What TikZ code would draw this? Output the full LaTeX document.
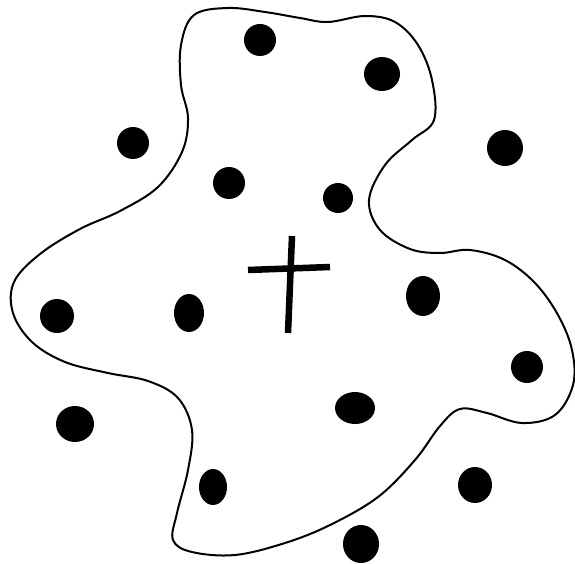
\documentclass[tikz,border=0pt]{standalone}
\usepackage{tikz}

\begin{document}
\begin{tikzpicture}[line cap=round,line join=round,x=1pt,y=-1pt]
			\useasboundingbox (0,0) rectangle (575,564);
			%contour
			\draw[line width=2pt] plot[smooth cycle,tension=0.6] coordinates {
				(194,15) (228,8) (265,12) (300,18) (328,22) (365,16) (395,22)
				(418,45) (432,80) (434,120) (412,140) (385,165) (369,200)
				(380,230) (410,249) (440,253) (470,250) (505,260) (535,283)
				(558,315) (572,350) (573,385) (555,415) (522,423) (487,413)
				(460,409) (440,426) (415,460) (378,497) (330,525) (285,543)
				(235,555) (192,552) (173,540) (177,513) (188,470) (192,430)
				(178,398) (148,381) (108,373) (65,362) (32,342) (13,313)
				(14,282) (40,254) (80,229) (120,211) (158,187) (182,152)
				(188,118) (181,85) (181,45)};
			%points
			\fill (260,40) ellipse (16pt and 16pt);
			\fill (382,74) ellipse (18pt and 17pt);
			\fill (133,143) ellipse (16pt and 16pt);
			\fill (505,148) ellipse (18pt and 18pt);
			\fill (229,183) ellipse (16pt and 16pt);
			\fill (338,198) ellipse (15pt and 15pt);
			\fill (423,296) ellipse (17pt and 20pt);
			\fill (57,316) ellipse (17pt and 17pt);
			\fill (189,313) ellipse (15pt and 19pt);
			\fill (527,367) ellipse (16pt and 16pt);
			\fill (355,408) ellipse (20pt and 16pt);
			\fill (75,424) ellipse (19pt and 18pt);
			\fill (213,487) ellipse (14pt and 18pt);
			\fill (475,485) ellipse (17pt and 18pt);
			\fill (361,544) ellipse (18pt and 19pt);
			%croix
			\draw[line width=6.5pt,line cap=butt] (292,236)--(288,333);
			\draw[line width=6.5pt,line cap=butt] (248,270)--(330,267);
	\end{tikzpicture}
\end{document}
